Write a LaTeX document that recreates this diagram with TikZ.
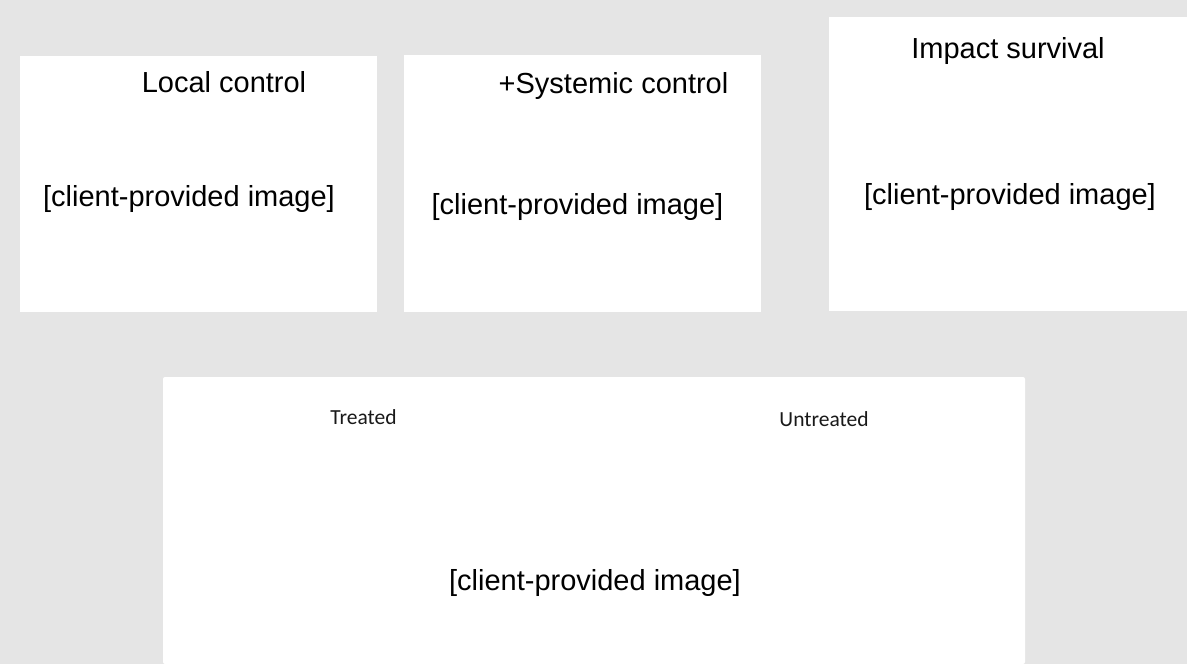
\documentclass[tikz,border=0pt]{standalone}
\usepackage{fontspec}
\setmainfont{Liberation Sans}
\newfontfamily\calib{Carlito}
\definecolor{bg}{HTML}{E5E5E5}
\begin{document}
\begin{tikzpicture}[x=1pt,y=-1pt,
  panel/.style={fill=white,draw=none,inner sep=0pt,outer sep=0pt},
  big/.style={font=\fontsize{29}{34}\selectfont,inner sep=0pt,anchor=base,text=black},
  small/.style={font=\calib\fontsize{21.5}{26}\selectfont,inner sep=0pt,anchor=base,text=black!90}]
\fill[bg] (0,0) rectangle (1187,664);
\useasboundingbox (0,0) rectangle (1187,664);
% panels
\path[panel] (20,56) rectangle (377,312);
\path[panel] (404,55) rectangle (761,312);
\path[panel] (829,17) rectangle (1187,311);
\path[panel,rounded corners=2pt] (163,377) rectangle (1025,664);
% texts
\node[big] (t1) at (224,92) {Local control};
\node[big] (i1) at (189,206) {[client-provided image]};
\node[big] (t2) at (613.5,93) {+Systemic control};
\node[big] (i2) at (577.5,214) {[client-provided image]};
\node[big] (t3) at (1008,58) {Impact survival};
\node[big] (i3) at (1010,204) {[client-provided image]};
\node[small] (tr) at (363.5,424) {Treated};
\node[small] (un) at (824,426) {Untreated};
\node[big] (i4) at (595,590) {[client-provided image]};
\end{tikzpicture}
\end{document}
